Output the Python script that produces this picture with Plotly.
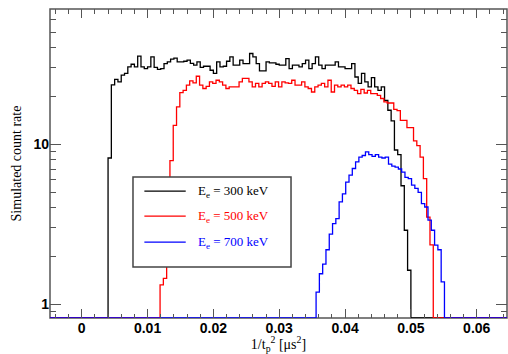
import numpy as np
import plotly.graph_objects as go

# ---------------- data ----------------
bin_width = 0.0005
black_start = 0.0040   # E_e = 300 keV, first non-empty bin edge
red_start = 0.0119     # E_e = 500 keV
blue_start = 0.0356    # E_e = 700 keV

counts_300 = [8.2, 23.5, 25.4, 24.5, 27.0, 27.7, 30.4, 31.6, 30.4, 35.5,
              30.4, 29.7, 30.4, 35.1, 30.2, 29.4, 29.7, 31.9, 32.7, 34.0,
              34.5, 32.7, 32.7, 33.0, 33.5, 32.0, 31.2, 32.7, 30.2, 30.7,
              30.7, 29.0, 27.7, 32.7, 30.4, 30.7, 33.0, 35.1, 31.2, 31.2,
              33.5, 31.9, 31.9, 36.9, 35.1, 31.9, 28.7, 28.7, 32.7, 32.2,
              32.2, 31.6, 31.2, 31.2, 34.3, 29.7, 31.2, 31.2, 30.4, 31.9,
              33.5, 29.7, 31.9, 35.1, 31.2, 29.7, 31.2, 31.2, 31.2, 32.7,
              30.4, 30.4, 29.7, 29.7, 31.9, 26.3, 24.0, 27.7, 24.5, 22.8,
              26.1, 22.8, 21.7, 22.8, 18.8, 16.3, 14.0, 9.2, 8.6, 5.5,
              2.9, 1.63]

counts_500 = [1.32, 1.45, 3.5, 7.9, 13.1, 17.1, 21.0, 21.7, 23.4, 24.9,
              24.2, 26.6, 23.4, 22.3, 23.0, 24.5, 24.0, 25.1, 24.5, 23.4,
              22.3, 22.8, 22.8, 22.8, 24.5, 25.8, 25.8, 24.5, 22.8, 24.0,
              22.8, 24.0, 24.5, 24.0, 23.0, 24.5, 22.8, 24.5, 24.2, 24.0,
              25.1, 23.4, 23.4, 24.5, 22.8, 22.3, 21.2, 22.8, 23.4, 24.0,
              22.8, 25.1, 21.2, 23.4, 22.8, 23.4, 22.8, 23.4, 22.3, 21.7,
              20.7, 22.0, 20.9, 21.7, 20.7, 20.7, 20.2, 19.3, 18.4, 18.1,
              18.1, 16.5, 16.2, 14.1, 14.1, 12.7, 12.7, 10.5, 9.8, 8.3,
              6.1, 3.5, 2.35]

counts_700 = [1.19, 1.55, 1.78, 2.19, 2.74, 3.19, 3.43, 4.36, 4.9, 5.8,
              6.4, 7.05, 7.75, 8.3, 8.5, 8.95, 8.6, 8.4, 8.6, 8.3,
              8.2, 8.3, 7.5, 7.3, 7.2, 7.0, 6.7, 6.2, 6.1, 5.55,
              5.3, 5.0, 4.25, 4.05, 3.35, 2.9, 2.34, 2.19, 1.38]

series_labels = ["E<sub>e</sub> = 300 keV", "E<sub>e</sub> = 500 keV", "E<sub>e</sub> = 700 keV"]
series_colors = ["#000000", "#ff0000", "#0000ff"]

x_tick_vals = [0, 0.01, 0.02, 0.03, 0.04, 0.05, 0.06]
x_tick_text = ["0", "0.01", "0.02", "0.03", "0.04", "0.05", "0.06"]
y_tick_vals = [1, 10]
y_tick_text = ["1", "10"]
y_minor_vals = [0.9, 2, 3, 4, 5, 6, 7, 8, 9, 20, 30, 40, 50, 60, 70]

x_range = [-0.00482, 0.0646]
y_range = [0.82, 70]

# ---------------- figure ----------------
fig = go.Figure()

x_lo, x_hi = x_range[0] - 0.01, x_range[1] + 0.01
floor = y_range[0]

for start, counts, color, name in zip(
        [black_start, red_start, blue_start],
        [counts_300, counts_500, counts_700],
        series_colors, series_labels):
    n = len(counts)
    edges = start + bin_width * np.arange(n + 1)
    xs = np.concatenate([[x_lo], edges, [x_hi]])
    ys = np.concatenate([[floor], counts, [floor, floor]])
    fig.add_trace(go.Scatter(x=xs, y=ys, mode="lines", name=name,
                             line=dict(color=color, width=1.3, shape="hv"),
                             hoverinfo="skip"))

# invisible trace so the mirrored (top / right) axes are drawn
fig.add_trace(go.Scatter(x=[x_range[0]], y=[y_range[0]], xaxis="x2", yaxis="y2",
                         mode="markers", marker=dict(opacity=0), hoverinfo="skip",
                         showlegend=False))

axis_color = "#555555"
tick_font = dict(family="Liberation Sans, Arial, sans-serif", size=14,
                 color="black")
title_font = dict(family="Liberation Serif, Times New Roman, serif", size=14,
                  color="black")

x_common = dict(range=x_range, ticks="inside", ticklen=9, tickwidth=1.2,
                tickcolor=axis_color, tickmode="array", tickvals=x_tick_vals,
                showgrid=False, zeroline=False, automargin=False, showline=False,
                minor=dict(dtick=0.002, tick0=0, ticks="inside", ticklen=4.5,
                           tickwidth=1.2, tickcolor=axis_color, showgrid=False))
y_common = dict(type="log", range=[np.log10(y_range[0]), np.log10(y_range[1])],
                ticks="inside", ticklen=11, tickwidth=1.2, tickcolor=axis_color,
                tickmode="array", tickvals=y_tick_vals, showgrid=False,
                zeroline=False, automargin=False, showline=False,
                minor=dict(tickmode="array", tickvals=y_minor_vals, ticks="inside",
                           ticklen=6, tickwidth=1.2, tickcolor=axis_color,
                           showgrid=False))

fig.update_layout(
    xaxis=dict(**x_common, ticktext=["<b>%s</b>" % t for t in x_tick_text],
               tickfont=tick_font,
               title=dict(text="1/t<sub>p</sub><sup>2</sup> [\u03bcs<sup>2</sup>]",
                          font=title_font, standoff=2)),
    yaxis=dict(**y_common, ticktext=["<b>%s</b>" % t for t in y_tick_text],
               tickfont=tick_font,
               title=dict(text="Simulated count rate", font=title_font, standoff=8)),
    xaxis2=dict(**x_common, overlaying="x", side="top", showticklabels=False),
    yaxis2=dict(**y_common, overlaying="y", side="right", showticklabels=False),
)

# frame drawn beneath the histograms, so empty bins show along the bottom edge
fig.add_shape(type="rect", xref="paper", yref="paper", x0=0, x1=1, y0=0, y1=1,
              line=dict(color=axis_color, width=1.5), layer="below")

# ---------------- legend box (drawn in paper coordinates) ----------------
box_x0, box_x1 = 0.1816, 0.5274
box_y0, box_y1 = 0.165, 0.4563
fig.add_shape(type="rect", xref="paper", yref="paper",
              x0=box_x0, x1=box_x1, y0=box_y0, y1=box_y1,
              fillcolor="white", line=dict(color="#444444", width=1.5),
              layer="above")
row_y = [0.4104, 0.3294, 0.2453]
for ry, color, name in zip(row_y, series_colors, series_labels):
    fig.add_shape(type="line", xref="paper", yref="paper",
                  x0=0.2065, x1=0.2970, y0=ry, y1=ry,
                  line=dict(color=color, width=1.2), layer="above")
    fig.add_annotation(xref="paper", yref="paper", x=0.3195, y=ry,
                       xanchor="left", yanchor="middle", showarrow=False,
                       text=name, font=dict(family="Liberation Serif, Times New Roman, serif",
                                            size=13, color=color))

fig.update_layout(
    width=508, height=354,
    margin=dict(l=50, r=1, t=9, b=36),
    plot_bgcolor="white", paper_bgcolor="white",
    showlegend=False,
)

fig.write_html("out.html", post_script="document.body.style.margin='0';",
               config={"displayModeBar": False})
